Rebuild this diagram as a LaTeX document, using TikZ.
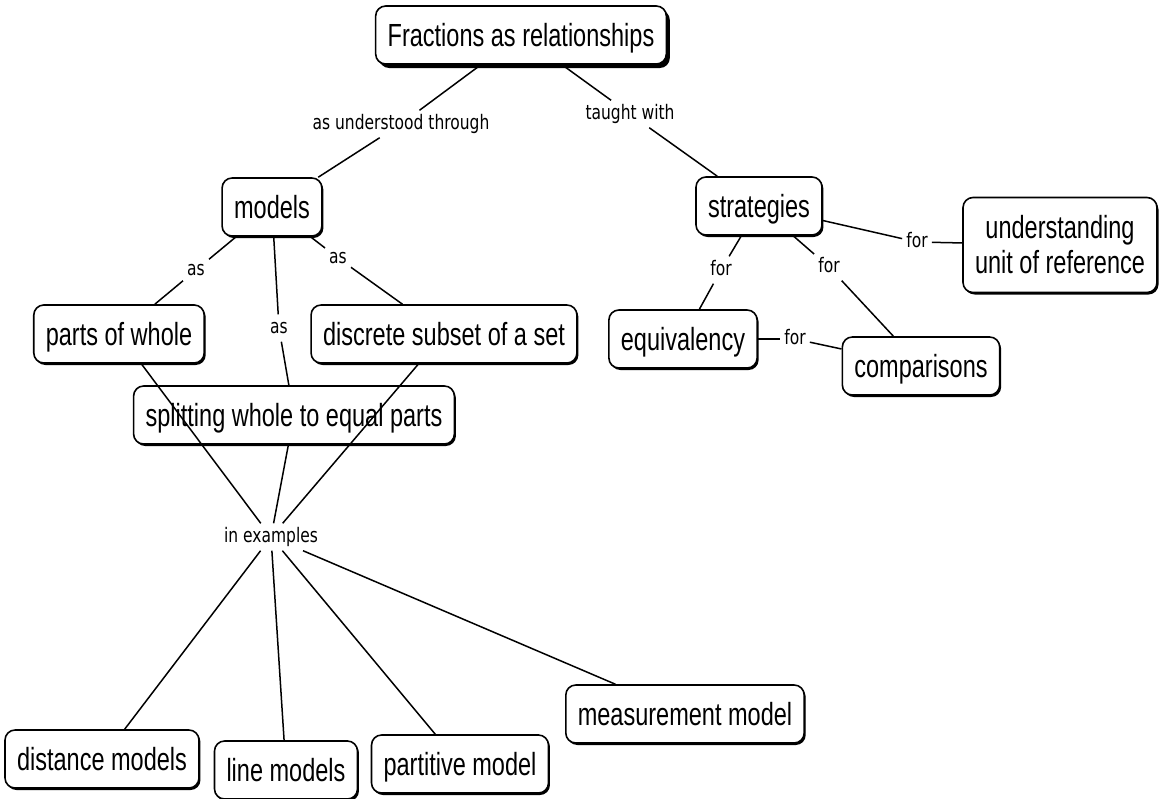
\documentclass[tikz,border=0pt]{standalone}
\usepackage{fontspec}
\setmainfont[FakeStretch=0.735]{Liberation Sans}
\newfontfamily\lblfont[FakeStretch=0.775]{DejaVu Sans}
\usetikzlibrary{shadows}

\begin{document}
\begin{tikzpicture}[x=1pt,y=-1pt,
  conceptbase/.style={draw=black, line width=1.6pt, rounded corners=10pt, fill=white,
    inner xsep=12pt, inner ysep=0pt, minimum height=58pt,
    font=\fontsize{32}{35}\selectfont,
    drop shadow={shadow xshift=1.5pt, shadow yshift=-2pt, fill=black, opacity=1}},
  concept/.style={conceptbase, text height=23pt, text depth=0pt},
  bigshadow/.style={drop shadow={shadow xshift=3.5pt, shadow yshift=-4pt, fill=black, opacity=1}},
  link/.style={inner sep=4pt, font=\lblfont\fontsize{20}{22}\selectfont,
    text height=15pt, text depth=4pt},
  conn/.style={line width=1.5pt}
]
\path[use as bounding box, fill=white] (0,0) rectangle (1161,798);

% concepts
\node[concept, bigshadow] (title) at (521,35) {Fractions as relationships};
\node[concept] (models) at (272,207) {models};
\node[concept] (parts) at (119,334) {parts of whole};
\node[concept] (discrete) at (444,334) {discrete subset of a set};
\node[concept] (split) at (294,415) {splitting whole to equal parts};
\node[concept] (strat) at (759,206) {strategies};
\node[conceptbase, minimum height=95pt, align=center] (unit) at (1060,245) {understanding\\unit of reference};
\node[concept] (equiv) at (683,339) {equivalency};
\node[concept] (comp) at (921,366) {comparisons};
\node[concept] (dist) at (102,759) {distance models};
\node[concept] (linem) at (286,770) {line models};
\node[concept] (partm) at (460,764) {partitive model};
\node[concept] (meas) at (685,714) {measurement model};

% linking phrases
\node[link] (lthrough) at (401,124) {as understood through};
\node[link] (ltaught) at (630,114) {taught with};
\node[link] (las1) at (196,270) {as};
\node[link] (las2) at (279,328) {as};
\node[link] (las3) at (338,258) {as};
\node[link] (lfor1) at (917,242) {for};
\node[link] (lfor2) at (721,270) {for};
\node[link] (lfor3) at (829,267) {for};
\node[link] (lfor4) at (795,339) {for};
\node[link] (lex) at (271,537) {in examples};

% connectors
\draw[conn] (title) -- (lthrough);
\draw[conn] (lthrough) -- (models);
\draw[conn] (title) -- (ltaught);
\draw[conn] (ltaught) -- (strat);
\draw[conn] (models) -- (las1);
\draw[conn] (las1) -- (parts);
\draw[conn] (models) -- (las2);
\draw[conn] (las2) -- (split);
\draw[conn] (models) -- (las3);
\draw[conn] (las3) -- (discrete);
\draw[conn] (strat) -- (lfor1);
\draw[conn] (lfor1) -- (unit);
\draw[conn] (strat) -- (lfor2);
\draw[conn] (lfor2) -- (equiv);
\draw[conn] (strat) -- (lfor3);
\draw[conn] (lfor3) -- (comp);
\draw[conn] (equiv) -- (lfor4);
\draw[conn] (lfor4) -- (comp);
\draw[conn] (parts) -- (lex);
\draw[conn] (split) -- (lex);
\draw[conn] (discrete) -- (lex);
\draw[conn] (lex) -- (dist);
\draw[conn] (lex) -- (linem);
\draw[conn] (lex) -- (partm);
\draw[conn] (lex) -- (meas);
\end{tikzpicture}
\end{document}
